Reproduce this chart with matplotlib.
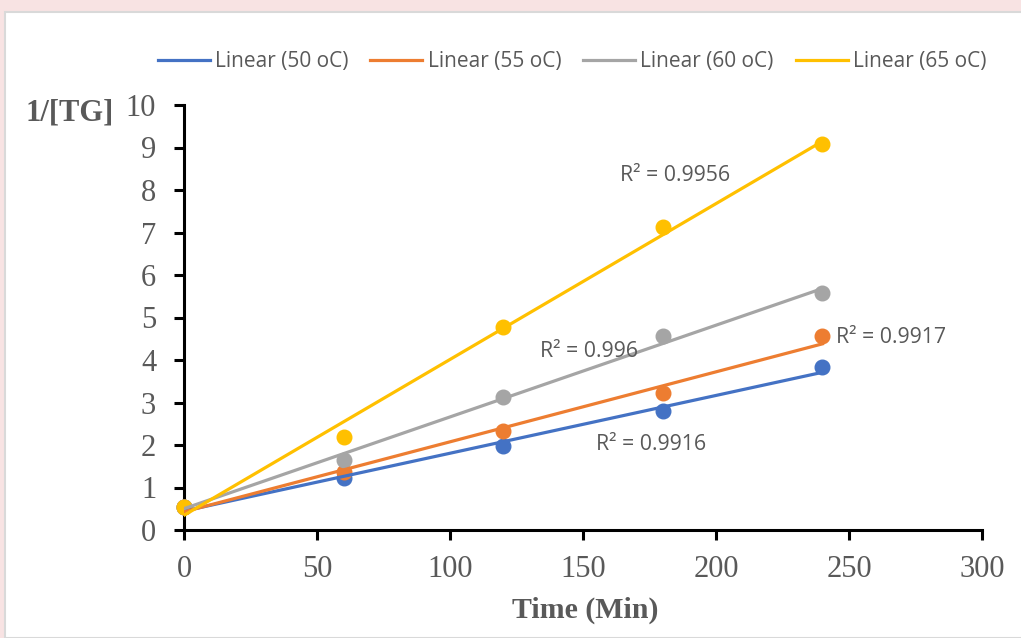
import numpy as np
import matplotlib
matplotlib.use("Agg")
import matplotlib.pyplot as plt
from matplotlib.patches import Rectangle

time_min = [0, 60, 120, 180, 240]
series_names = ["50 oC", "55 oC", "60 oC", "65 oC"]
inv_tg_50 = [0.55, 1.22, 1.98, 2.80, 3.84]
inv_tg_55 = [0.55, 1.36, 2.33, 3.22, 4.56]
inv_tg_60 = [0.55, 1.65, 3.13, 4.56, 5.57]
inv_tg_65 = [0.55, 2.19, 4.78, 7.13, 9.08]
r2_labels = ["R² = 0.9916", "R² = 0.9917", "R² = 0.996", "R² = 0.9956"]
x_ticks = [0, 50, 100, 150, 200, 250, 300]
y_ticks = list(range(0, 11))

colors = ["#4472C4", "#ED7D31", "#A5A5A5", "#FFC000"]
label_pos = [(155, 2.0), (245, 4.52), (134, 4.19), (164, 8.35)]

fig = plt.figure(figsize=(10.21, 6.38), dpi=100)
fig.patch.set_facecolor("#f8e3e3")
fig.add_artist(Rectangle((5 / 1021, 0), 1.0, 1 - 12 / 638, transform=fig.transFigure,
                         facecolor="white", edgecolor="#d9d9d9", linewidth=1.5, zorder=0))

ax = fig.add_axes([184 / 1021, 1 - 530 / 638, (982 - 184) / 1021, (530 - 105) / 638])
ax.set_facecolor("none")

all_series = [inv_tg_50, inv_tg_55, inv_tg_60, inv_tg_65]
x = np.array(time_min, dtype=float)
handles = []
for ys, c in zip(all_series, colors):
    ax.plot(x, np.array(ys), "o", color=c, markersize=10.5, zorder=3, clip_on=False)
for ys, c, name in zip(all_series, colors, series_names):
    y = np.array(ys)
    m, b = np.polyfit(x, y, 1)
    xx = np.array([x.min(), x.max()])
    h, = ax.plot(xx, m * xx + b, "-", color=c, linewidth=2.3, zorder=4,
                 label=f"Linear ({name})")
    handles.append(h)

for (px, py), txt in zip(label_pos, r2_labels):
    ax.text(px, py, txt, fontsize=15.3, color="#595959", family="Open Sans",
            ha="left", va="center", zorder=5)

ax.set_xlim(0, 300)
ax.set_ylim(0, 10)
ax.set_xticks(x_ticks)
ax.set_yticks(y_ticks)
for s in ["top", "right"]:
    ax.spines[s].set_visible(False)
for s in ["left", "bottom"]:
    ax.spines[s].set_linewidth(2.2)
    ax.spines[s].set_color("black")
ax.tick_params(axis="both", direction="out", length=7, width=2.2, color="black",
               labelsize=22, labelcolor="#595959")
ax.tick_params(axis="x", pad=11)
ax.tick_params(axis="y", pad=13)
for lab in ax.get_xticklabels() + ax.get_yticklabels():
    lab.set_family("Liberation Serif")

fig.text(585 / 1021, 1 - 610 / 638, "Time (Min)", fontsize=21.5, fontweight="bold",
         family="Liberation Serif", color="#595959", ha="center", va="center")
fig.text(70 / 1021, 1 - 113 / 638, "1/[TG]", fontsize=22, fontweight="bold",
         family="Liberation Serif", color="#595959", ha="center", va="center")

leg = fig.legend(handles=handles, loc="center", bbox_to_anchor=(572 / 1021, 1 - 62 / 638),
                 ncol=4, frameon=False, handlelength=2.5,
                 columnspacing=1.05, handletextpad=0.25, prop={"family": "Open Sans", "size": 15})
for t in leg.get_texts():
    t.set_color("#595959")

fig.savefig("out.png", dpi=100, facecolor=fig.get_facecolor())
